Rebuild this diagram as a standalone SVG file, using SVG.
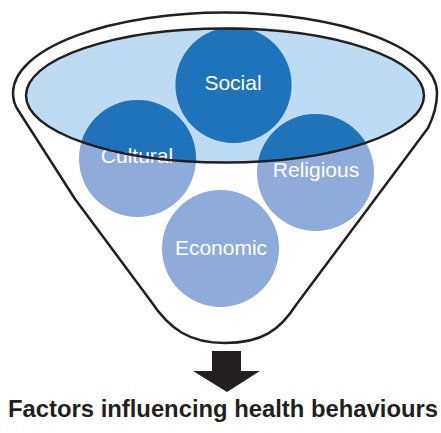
<svg xmlns="http://www.w3.org/2000/svg" width="441" height="433" viewBox="0 0 441 433">
<style>
.outline{fill:none;stroke:#231F20;stroke-width:2.5;stroke-linejoin:round}
.light{fill:#8FABD9}
.dark{fill:#1F73BA}
.lbl{font-family:"Liberation Sans",Arial,sans-serif;font-size:21px;fill:#FFFFFF;text-anchor:middle}
.title{font-family:"Liberation Sans",Arial,sans-serif;font-size:23.5px;font-weight:bold;fill:#231F20}
</style>
<defs>
<clipPath id="bowl"><ellipse cx="225" cy="95.5" rx="199" ry="67"/></clipPath>
</defs>
<g id="funnel">
<path class="outline" d="M13,93 A212 80.5 0 0 1 437,93 C437,105 433,118 428,128 L296,305 C280,330 262,343 225,343 C190,343 170,330 150,300 L75,199 L18,110 C14,104 13,99 13,93 Z"/>
<ellipse cx="225" cy="95.5" rx="199" ry="67" fill="#BDDCF3"/>
</g>
<g id="circles-base">
<circle class="light" cx="233.5" cy="85" r="58"/>
<circle class="light" cx="137.5" cy="158.5" r="58.5"/>
<circle class="light" cx="315.5" cy="172.5" r="58.5"/>
<circle class="light" cx="220.5" cy="248.5" r="58.5"/>
</g>
<g id="circles-in-bowl" clip-path="url(#bowl)">
<circle class="dark" cx="233.5" cy="85" r="58"/>
<circle class="dark" cx="137.5" cy="158.5" r="58.5"/>
<circle class="dark" cx="315.5" cy="172.5" r="58.5"/>
</g>
<g id="social"><text class="lbl" x="233" y="90">Social</text></g>
<g id="cultural"><text class="lbl" x="137" y="163">Cultural</text></g>
<g id="religious"><text class="lbl" x="316" y="177">Religious</text></g>
<g id="economic"><text class="lbl" x="221" y="255">Economic</text></g>
<g id="bowl-rim"><ellipse class="outline" cx="225" cy="95.5" rx="199" ry="67"/></g>
<g id="connectors">
<polygon points="212,351 241,351 241,371 260,371 227,392 193,371 212,371" fill="#231F20"/>
</g>
<g id="result"><text class="title" x="8" y="417" textLength="430" lengthAdjust="spacingAndGlyphs">Factors influencing health behaviours</text></g>
</svg>
